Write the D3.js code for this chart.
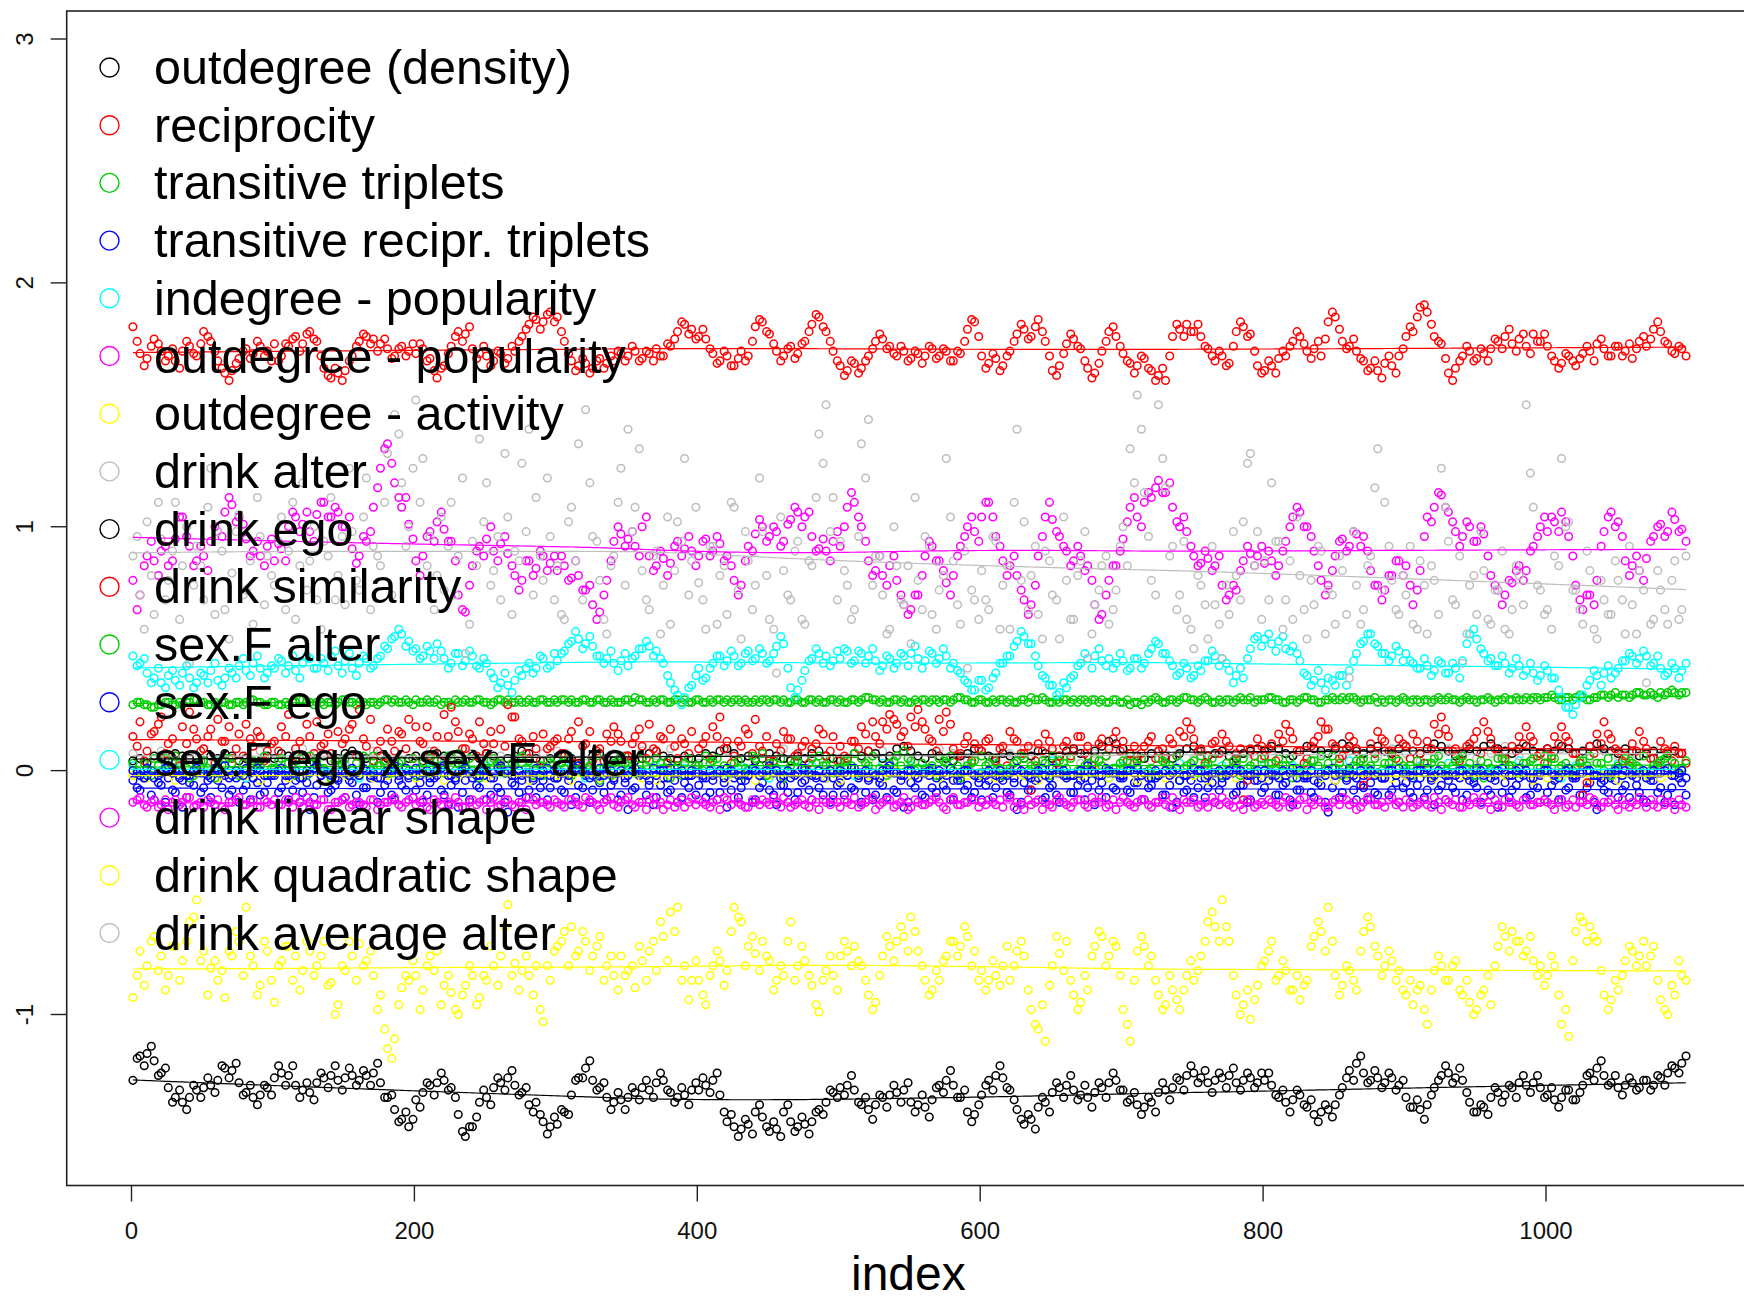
<!DOCTYPE html>
<html>
<head>
<meta charset="utf-8">
<script src="https://cdn.jsdelivr.net/npm/d3@7"></script>
<style>
  html, body { margin: 0; padding: 0; background: #ffffff; }
  svg { display: block; font-family: "Liberation Sans", Arial, sans-serif; }
</style>
</head>
<body>
<svg id="chart" width="1744" height="1302"></svg>
<script>
// Parameter chains stored in hundredths.
// Main arrays of 220 values are sampled every 5 iterations (1, 6, 11, ...),
// arrays of 110 values every 10 iterations. "Mid" arrays hold the values
// recorded between the main samples (iterations 4, 9, 14, ...).

const outdegreeDensity = [
  -127,-117,-116,-119,-124,-130,-134,-136,-134,-131,-130,-129,-127,-122,-123,-128,-132,-134,-133,-130,
  -126,-124,-125,-129,-131,-132,-128,-126,-125,-127,-126,-125,-127,-125,-124,-128,-134,-139,-143,-146,
  -135,-132,-129,-128,-127,-130,-141,-150,-146,-136,-134,-130,-128,-126,-129,-132,-137,-136,-144,-146,
  -145,-140,-133,-126,-122,-127,-130,-134,-136,-135,-134,-132,-130,-131,-128,-127,-132,-134,-133,-131,
  -131,-129,-127,-133,-144,-146,-147,-145,-140,-142,-148,-147,-140,-144,-146,-145,-144,-139,-136,-132,
  -130,-129,-131,-137,-139,-137,-134,-133,-132,-131,-136,-137,-138,-135,-129,-127,-129,-134,-140,-141,
  -133,-127,-125,-126,-131,-139,-145,-143,-138,-136,-132,-130,-129,-131,-133,-134,-132,-130,-128,-127,
  -131,-135,-137,-138,-136,-132,-131,-130,-127,-125,-124,-126,-128,-127,-126,-125,-128,-127,-126,-128,
  -127,-129,-134,-136,-135,-133,-138,-141,-140,-139,-137,-130,-123,-120,-124,-127,-126,-128,-126,-129,
  -134,-138,-139,-137,-130,-125,-124,-126,-127,-136,-140,-138,-134,-132,-133,-130,-128,-129,-128,-130,
  -133,-135,-134,-131,-135,-129,-124,-122,-125,-128,-130,-129,-128,-130,-127,-129,-126,-124,-122,-120
];
const outdegreeDensityMid = [
  -118,-121,-113,-125,-122,-136,-131,-139,-129,-134,-126,-132,-121,-126,-120,-133,-129,-137,-129,-133,
  -121,-129,-121,-134,-128,-135,-124,-130,-121,-131,-122,-129,-123,-129,-120,-134,-133,-144,-140,-143,
  -138,-128,-133,-124,-131,-134,-148,-146,-142,-131,-137,-126,-131,-123,-133,-130,-140,-141,-149,-142,
  -139,-141,-127,-126,-119,-131,-128,-139,-132,-139,-130,-135,-127,-134,-124,-131,-136,-130,-137,-128,
  -126,-132,-124,-140,-141,-150,-143,-149,-137,-146,-144,-150,-137,-148,-142,-149,-140,-141,-131,-134,
  -133,-125,-136,-134,-143,-133,-138,-129,-136,-128,-140,-133,-142,-130,-132,-123,-134,-131,-144,-137,
  -129,-131,-121,-130,-135,-143,-141,-147,-134,-140,-128,-134,-125,-135,-129,-138,-128,-134,-124,-131,
  -136,-132,-141,-134,-140,-128,-135,-126,-131,-121,-128,-123,-132,-124,-130,-122,-131,-124,-130,-124,
  -124,-133,-131,-140,-131,-137,-135,-144,-137,-142,-133,-126,-127,-117,-128,-123,-130,-124,-131,-127,
  -138,-135,-143,-133,-127,-121,-128,-122,-132,-140,-137,-141,-130,-136,-129,-134,-125,-132,-125,-134,
  -130,-138,-131,-135,-132,-125,-127,-119,-129,-125,-133,-126,-131,-127,-131,-125,-129,-121,-124,-117
];

const reciprocity = [
  182,171,169,177,172,170,168,172,174,170,180,176,168,163,164,169,173,171,174,172,
  175,170,174,178,175,180,176,165,161,163,164,170,176,178,177,175,173,170,174,172,
  171,173,169,161,166,174,180,179,173,171,170,168,171,169,172,178,183,185,184,188,
  186,176,168,166,167,165,169,167,168,171,170,172,169,171,173,170,174,180,183,181,
  178,177,171,168,170,166,172,170,182,184,179,172,170,174,171,176,183,186,180,172,
  166,164,167,165,170,176,177,174,170,172,169,171,170,173,170,172,168,171,181,184,
  170,167,169,166,172,179,181,178,185,176,164,166,175,177,173,165,163,172,180,178,
  171,167,166,169,164,162,160,178,181,183,180,178,173,168,170,167,180,182,179,166,
  164,166,169,170,176,178,172,173,170,184,186,176,174,172,168,165,164,167,166,170,
  178,180,190,188,178,175,163,165,170,172,169,171,173,176,178,175,177,174,179,176,
  174,168,167,170,166,171,172,175,173,170,174,172,169,176,174,181,180,175,171,173
];
const reciprocityMid = [
  176,166,174,175,168,173,165,176,171,175,178,172,165,160,167,172,169,176,170,168,
  168,175,177,172,179,177,170,162,165,160,168,174,179,175,172,177,169,173,170,175,
  175,168,164,165,171,178,176,182,169,174,166,172,167,174,176,181,186,181,187,184,
  180,171,164,169,163,168,165,170,172,168,174,168,172,168,170,175,177,184,179,177,
  181,173,167,172,166,169,168,176,185,180,175,168,173,169,175,180,187,182,176,168,
  162,168,163,168,173,179,173,171,174,168,172,167,174,169,173,168,172,176,185,178,
  165,171,164,170,176,183,177,182,180,170,162,171,179,174,168,161,167,176,182,174,
  168,163,170,165,160,165,170,183,178,180,183,174,170,172,166,174,184,178,172,163,
  168,163,172,174,180,175,169,176,177,188,181,173,177,169,164,168,161,170,163,173,
  182,186,191,183,176,169,160,168,174,168,173,168,177,173,181,172,179,171,176,179,
  170,165,171,168,169,174,168,177,170,174,170,175,173,178,177,184,176,172,174,170
];

const transTriplets = [
  27,28,27,26,27,28,27,27,28,29,28,27,27,28,27,28,28,29,28,27,
  28,27,27,28,29,28,28,27,28,28,29,28,28,27,28,28,29,29,28,28,
  29,28,28,29,28,27,28,29,28,29,28,28,29,29,28,28,29,28,29,28,
  28,29,29,28,29,28,29,28,28,28,29,30,29,28,28,29,28,29,29,28,
  29,28,28,29,29,29,28,28,29,29,28,29,29,28,29,28,29,29,28,29,
  29,28,29,29,30,29,29,28,29,29,28,28,29,29,28,29,29,30,29,28,
  29,28,28,29,29,28,29,30,29,29,28,28,29,29,29,28,29,29,28,29,
  28,27,28,29,29,29,28,29,29,30,29,29,29,28,28,29,29,29,30,29,
  29,30,29,28,29,29,30,29,28,29,29,30,30,29,29,29,28,28,29,29,
  29,29,28,29,29,29,30,29,29,29,28,29,29,29,30,29,29,30,30,29,
  30,30,29,30,30,30,29,30,31,31,30,31,31,32,31,31,32,32,32,32
];
const transTripletsMid = [
  28,27,26,27,28,27,28,28,29,28,27,28,28,27,28,27,29,28,27,28,
  27,28,28,29,28,27,28,28,27,29,28,27,28,28,27,29,28,28,29,27,
  28,29,28,27,28,29,28,28,29,28,27,29,28,28,29,28,28,29,28,29,
  29,28,28,29,28,29,28,29,28,29,28,29,28,29,29,28,29,28,28,29,
  28,29,29,28,28,29,29,28,28,29,29,28,28,29,28,29,28,28,29,28,
  28,29,28,30,29,28,28,29,28,28,29,29,28,29,29,28,30,29,28,29,
  28,29,29,28,28,29,28,29,30,28,29,29,28,28,29,29,28,28,29,28,
  29,28,27,28,30,28,29,28,30,29,28,30,28,29,29,28,30,29,28,29,
  30,29,28,29,28,30,29,28,29,30,29,29,30,28,29,30,29,29,28,30,
  28,29,29,28,30,29,29,28,30,29,29,30,28,29,29,30,29,29,30,30,
  31,29,30,29,31,29,30,31,30,32,31,30,32,31,32,30,31,33,31,32
];

const transReciprTriplets = [
  -4,-8,-2,-12,-6,-3,-9,-15,-5,-1,-7,-11,-4,-2,-8,-13,-6,-3,-10,-5,
  -2,-7,-12,-4,-9,-16,-6,-1,-8,-3,-11,-5,-14,-7,-2,-9,-4,-12,-6,-3,
  -8,-13,-5,-2,-10,-6,-15,-4,-1,-7,-12,-3,-9,-17,-6,-2,-8,-11,-4,-7,
  -3,-9,-14,-6,-2,-8,-5,-12,-4,-10,-16,-7,-1,-6,-11,-3,-8,-13,-5,-2,
  -6,-11,-4,-9,-15,-3,-7,-2,-12,-5,-8,-14,-6,-1,-9,-4,-12,-7,-3,-10,
  -5,-2,-8,-13,-4,-10,-6,-1,-9,-15,-5,-3,-11,-7,-2,-8,-12,-4,-6,-9,
  -12,-4,-7,-2,-10,-16,-5,-8,-3,-11,-6,-13,-2,-9,-4,-7,-14,-5,-1,-8,
  -3,-9,-5,-12,-6,-2,-10,-15,-4,-8,-11,-3,-7,-13,-5,-1,-9,-6,-12,-4,
  -7,-2,-10,-5,-14,-8,-3,-11,-6,-17,-4,-9,-2,-12,-7,-5,-10,-3,-8,-13,
  -5,-11,-3,-8,-14,-6,-2,-9,-12,-4,-7,-1,-10,-15,-5,-8,-3,-11,-6,-2,
  -9,-4,-12,-7,-2,-10,-5,-16,-8,-3,-11,-6,-1,-9,-13,-4,-7,-10,-14,-5
];
const transReciprTripletsMid = [
  -7,-3,-10,-5,-13,-8,-2,-11,-6,-9,-4,-14,-7,-10,-3,-8,-12,-5,-9,-2,
  -9,-4,-8,-13,-5,-11,-2,-9,-6,-12,-4,-10,-7,-3,-13,-6,-10,-4,-8,-11,
  -5,-10,-3,-8,-14,-4,-9,-12,-6,-2,-10,-7,-13,-5,-9,-11,-4,-7,-12,-3,
  -8,-4,-11,-7,-13,-3,-9,-6,-12,-5,-8,-2,-10,-14,-6,-9,-4,-11,-7,-10,
  -3,-9,-12,-5,-8,-11,-4,-13,-7,-2,-10,-6,-9,-12,-5,-8,-3,-10,-13,-6,
  -10,-7,-3,-9,-12,-5,-11,-8,-4,-13,-7,-10,-2,-9,-6,-12,-4,-8,-11,-5,
  -6,-11,-3,-9,-5,-13,-8,-4,-12,-7,-10,-2,-9,-6,-12,-4,-8,-11,-7,-3,
  -8,-5,-12,-7,-3,-10,-6,-13,-9,-4,-7,-11,-5,-8,-2,-10,-6,-13,-4,-9,
  -4,-10,-6,-12,-8,-3,-9,-5,-13,-7,-11,-4,-8,-6,-12,-9,-3,-10,-5,-7,
  -9,-6,-11,-4,-8,-12,-7,-3,-10,-5,-13,-8,-4,-9,-11,-6,-2,-10,-7,-12,
  -6,-12,-8,-3,-10,-7,-13,-5,-9,-4,-8,-11,-6,-12,-4,-9,-13,-7,-3,-10
];

const indegreePopularity = [
  2,-1,0,3,-2,1,4,0,-3,2,  1,-2,3,0,-1,2,-3,1,0,4,  -2,1,3,-1,0,2,-1,3,1,-2,
  0,2,-3,1,4,0,-1,2,-2,1,  3,0,-1,2,1,-3,0,4,2,-1,  1,-2,0,3,-1,2,1,-3,0,2,
  -1,3,0,-2,1,4,-1,0,2,-3, 2,1,-1,0,3,-2,1,2,0,-1,  3,-1,2,0,-3,1,4,0,-2,1,
  0,2,-1,3,1,-2,0,2,4,-1,  1,-3,2,0,-1,3,1,-2,2,0
];

const outdegreePopularity = [
  78,72,88,86,90,84,95,104,92,86,88,94,98,106,109,104,95,90,88,92,
  86,91,100,104,101,98,105,110,104,106,100,91,88,94,108,124,134,118,108,101,
  86,88,98,102,99,94,72,65,84,92,95,90,93,89,80,78,86,83,88,85,
  82,84,79,80,74,68,65,78,94,97,95,92,100,88,84,87,85,94,91,90,
  88,95,90,93,88,78,76,92,97,100,96,98,94,103,106,104,96,91,90,94,
  92,108,110,100,86,82,80,84,78,68,66,72,88,92,86,77,80,92,100,98,
  104,110,96,86,84,80,70,68,88,104,103,96,90,86,88,84,68,64,78,84,
  95,108,104,110,112,119,114,108,100,98,88,85,87,84,76,72,74,86,89,88,
  85,86,84,94,104,106,100,90,78,76,88,95,92,97,96,82,76,74,80,86,
  84,68,82,104,108,113,106,98,96,100,94,97,80,74,72,77,84,82,92,100,
  98,102,106,96,76,66,72,78,98,106,102,86,84,82,87,96,101,98,103,99
];
const outdegreePopularityMid = [
  66,84,94,80,92,86,104,96,84,92,82,100,96,112,102,101,88,94,84,95,
  93,86,106,98,106,94,110,104,108,100,104,85,96,98,116,132,126,112,112,95,
  80,96,94,106,94,86,66,76,90,88,100,86,96,84,74,86,80,90,82,88,
  88,78,86,74,76,62,72,86,100,92,98,88,104,82,90,80,92,88,96,84,
  94,88,96,86,84,72,86,90,103,94,100,92,101,108,100,106,90,95,86,98,
  100,114,104,94,80,88,76,88,72,64,72,80,94,86,82,72,88,96,104,94,
  110,104,92,80,88,74,64,76,96,110,98,92,84,92,82,78,62,72,84,90,
  102,112,100,114,116,114,118,102,104,92,84,90,82,88,70,76,82,92,84,92,
  90,80,90,100,108,100,96,84,72,82,94,90,98,92,90,76,70,80,86,80,
  76,74,96,102,114,108,102,92,102,94,100,88,76,68,78,82,78,90,96,104,
  104,98,102,88,70,72,68,92,104,100,96,80,88,78,94,100,96,106,98,94
];

const outdegreeActivity = [
  -2,-3,-1,-4,-2,0,-3,-1,-2,-4,  -1,-3,-2,0,-4,-2,-1,-3,-2,-1,  -3,-1,-4,-2,-1,-3,0,-2,-4,-1,
  -2,-4,-1,-3,-2,-1,-3,-4,-2,0,  -1,-2,-3,-1,-4,-2,-3,-1,-2,-3,  -4,-1,-2,-3,0,-2,-1,-3,-4,-2,
  -2,-3,-1,-2,-4,-1,-3,-2,0,-3,  -1,-4,-2,-3,-1,-2,-4,-1,-3,-2,  -3,-2,0,-1,-3,-4,-2,-1,-2,-3,
  -2,-1,-3,-4,-2,-1,-3,-2,-1,-4, -3,-2,-1,-3,-2,-4,-1,-2,-3,-1
];

const drinkAlter = [
  7,5,8,4,6,9,5,3,6,8,  4,6,9,7,5,3,6,8,5,4,  6,8,5,3,7,9,6,4,5,7,
  8,5,3,6,7,4,8,6,9,5,  3,6,8,5,4,7,9,6,5,3,  5,7,4,8,6,3,5,9,7,4,
  6,4,7,9,5,8,6,3,7,10, 8,6,4,7,9,5,6,8,4,7,  5,8,6,3,7,9,8,5,6,9,
  7,4,6,9,8,5,7,10,6,8, 6,9,7,5,8,6,4,7,9,6
];

const drinkEgo = [
  4,5,3,6,5,4,7,6,5,3,4,6,5,7,6,4,5,3,4,6,
  5,7,6,4,5,3,5,6,4,5,7,8,6,5,4,6,5,3,4,5,
  6,4,5,7,6,5,3,4,6,5,7,6,4,5,6,8,7,5,4,5,
  4,6,5,3,4,6,7,5,4,5,6,4,5,7,8,6,5,4,6,5,
  5,7,6,8,9,7,5,6,4,5,7,6,5,4,6,5,7,8,6,5,
  4,5,7,6,8,7,5,6,9,10,8,6,5,7,6,5,4,6,7,9,
  8,6,5,7,6,4,5,6,8,7,5,6,8,9,7,6,8,10,12,11,
  9,7,6,5,7,8,6,5,7,9,10,8,6,7,8,6,5,7,8,9,
  8,10,9,7,6,8,10,9,8,7,9,11,10,8,7,9,10,8,7,9,
  10,8,7,9,11,10,8,6,7,9,8,10,11,9,8,7,9,10,8,7,
  9,8,10,9,7,8,10,11,9,8,7,9,8,6,7,8,6,7,8,7
];

const drinkSimilarity = [
  14,20,8,16,22,11,6,18,24,13,9,17,21,12,5,15,19,10,14,8,
  12,18,23,9,6,14,20,11,7,16,13,19,25,10,4,12,17,8,15,21,
  18,11,6,14,23,26,16,9,13,20,7,11,17,27,22,12,5,9,15,10,
  13,7,16,20,11,4,9,15,18,12,6,14,10,19,8,13,17,5,11,16,
  9,14,18,22,12,6,10,15,21,8,4,11,16,13,7,12,9,17,6,14,
  10,5,12,18,8,14,20,23,19,16,22,25,17,12,21,24,9,7,14,11,
  8,13,4,10,16,12,7,-8,11,15,9,6,12,8,14,10,5,13,9,16,
  12,7,4,10,14,8,5,11,16,20,13,9,6,12,15,10,7,-12,9,13,
  6,11,15,19,13,8,5,12,20,17,10,6,14,9,-6,11,16,12,8,13,
  10,15,7,12,19,22,14,9,6,11,16,20,13,8,5,10,14,18,12,7,
  9,14,18,12,7,-10,10,15,20,13,8,6,11,16,9,5,12,8,10,7
];
const drinkSimilarityMid = [
  10,4,15,19,7,13,2,11,17,8,14,3,12,18,9,6,13,16,4,11,
  8,14,3,12,19,7,10,15,4,11,17,6,13,21,8,3,12,16,9,5,
  12,18,8,4,14,20,9,15,6,11,16,3,10,22,13,7,14,4,9,12,
  7,13,3,10,16,8,4,12,15,6,11,17,5,9,14,3,10,13,7,2,
  11,5,14,9,3,12,17,7,10,14,4,8,13,6,10,3,11,15,8,4,
  6,12,9,15,20,11,17,21,14,10,18,20,13,8,16,19,6,11,4,9,
  12,5,9,2,13,7,10,4,8,12,3,10,6,14,7,2,11,6,13,8,
  4,10,7,12,5,9,13,6,14,17,8,3,11,7,12,4,9,-4,6,10,
  9,4,12,16,8,3,10,14,17,11,5,9,12,4,-2,7,13,8,5,11,
  5,12,3,9,15,17,8,4,10,13,7,16,9,5,2,8,11,14,6,3,
  6,11,14,7,3,-5,7,11,15,9,4,2,8,12,5,2,9,4,7,3
];

const sexFAlter = [
  3,-2,1,5,-1,2,6,0,-3,2,4,-1,1,5,3,-2,0,4,2,-1,
  1,5,3,-2,0,6,4,1,-3,2,5,0,-2,3,6,2,-1,1,4,0,
  -2,3,5,1,-1,4,7,2,0,-3,1,5,3,-1,2,6,4,0,-2,3,
  5,1,-2,2,4,0,-4,1,3,6,2,-1,0,4,5,1,-3,2,3,0,
  2,6,4,-1,1,3,-2,0,5,7,3,1,-3,2,4,0,5,6,2,-1,
  1,4,7,5,2,-2,0,3,6,8,4,1,-1,2,5,3,0,-3,2,4,
  6,3,0,-2,1,4,5,2,-1,3,6,4,1,-2,0,3,5,2,-1,1,
  4,6,2,-1,1,5,3,0,-4,2,4,6,3,1,-2,0,3,5,2,-1,
  0,3,5,2,-3,-1,2,4,6,3,1,-2,0,4,5,2,-1,3,6,4,
  1,-2,0,3,5,2,-1,4,6,3,0,-3,1,5,4,2,-1,3,5,1,
  3,5,2,-1,1,4,6,3,0,-2,2,5,3,1,-1,2,4,6,3,1
];
const sexFAlterMid = [
  0,3,-2,2,5,-1,3,1,-2,4,1,-3,2,5,0,3,-1,2,6,1,
  4,0,2,5,-2,3,1,-1,4,2,-2,3,6,0,2,4,-1,3,1,5,
  1,-1,4,2,6,0,3,5,-2,1,4,2,-1,3,5,1,-2,2,4,0,
  3,5,0,-1,2,6,1,-2,4,3,0,5,2,-1,3,4,1,-2,5,2,
  0,3,5,2,-1,4,1,6,2,-2,3,5,0,4,1,-1,3,2,5,1,
  4,2,-1,3,6,1,-2,4,2,5,0,3,1,-2,4,6,2,0,3,-1,
  2,5,1,-1,3,6,0,2,4,-2,1,3,5,0,2,-1,4,6,1,3,
  1,3,5,0,-2,4,2,6,1,3,-1,2,5,0,3,4,-2,1,3,5,
  3,0,2,5,1,-2,4,2,0,6,3,-1,2,4,1,5,0,3,-2,2,
  2,4,-1,3,6,0,2,5,1,-2,4,3,0,5,2,-1,3,4,1,6,
  5,1,3,0,4,2,-1,3,5,1,-2,4,2,6,0,3,5,1,-1,4
];

const sexFEgo = [
  0,-2,1,-3,-1,2,0,-4,-2,1,-1,-3,0,2,-2,-1,1,-3,0,-2,
  -1,1,-2,0,-3,-1,2,0,-2,-4,-1,1,-2,0,-1,-3,0,2,-1,-2,
  1,-1,-3,0,2,-2,-1,1,-3,-2,0,-1,2,0,-2,-4,-1,1,0,-2,
  -3,-1,0,2,-1,-2,1,-1,-3,0,-2,1,-1,-4,-2,0,1,-1,-2,0,
  -1,-3,-2,0,1,-1,-4,-2,0,-1,2,0,-2,-3,-1,1,-2,0,-1,-3,
  0,-2,1,-1,-3,-2,0,2,-1,-2,0,-3,-1,1,0,-2,-4,-1,0,-2,
  -1,0,-2,-4,-1,1,-1,-3,0,-2,1,-1,-3,-2,0,2,-1,-2,0,-1,
  -2,0,1,-1,-3,-2,0,-1,-4,-2,1,0,-2,-1,-3,0,1,-1,-2,0,
  0,-1,-3,-2,1,0,-2,-4,-1,0,-2,-1,1,-3,-2,0,-1,-3,0,1,
  -1,-3,0,1,-2,-1,-4,-2,0,-1,1,-2,-3,0,-1,-2,1,0,-3,-1,
  0,-2,-1,1,-3,-1,0,-2,-4,-1,1,0,-2,-1,-3,0,-1,1,-2,0
];
const sexFEgoMid = [
  -1,-3,0,-2,1,-1,-3,-2,0,-1,-2,1,-1,-3,0,-2,-1,1,-2,-1,
  0,-2,-1,-3,0,1,-2,-1,-3,0,-2,-1,1,-2,-3,-1,0,-2,1,-1,
  -2,0,-1,1,-2,-3,0,-1,-2,0,-3,1,-1,-2,0,-1,-3,-2,1,0,
  -1,-2,1,0,-3,-1,-2,0,-1,-3,0,-1,-2,1,0,-3,-1,0,-2,-1,
  -2,0,-1,-3,0,-2,-1,1,-2,0,-1,-3,0,-2,1,-1,-2,-3,0,-1,
  -1,1,-2,0,-1,-3,1,-1,-2,0,-2,-1,0,-3,-1,1,-2,0,-1,-3,
  -2,-1,0,-2,-3,0,-2,-1,1,-3,-1,0,-2,-1,-3,0,-2,1,-1,-2,
  0,-1,-2,-3,0,-1,-2,1,-2,-1,0,-3,-1,0,-2,-1,0,-2,-1,-3,
  -1,-2,0,-1,-3,-2,0,-1,-2,1,-1,-3,-2,0,-1,-2,-3,0,-2,-1,
  -2,0,-1,-3,0,-2,-1,0,-2,-3,0,-1,-2,1,-2,0,-1,-3,-1,0,
  -1,-3,0,-2,-1,0,-2,-3,-1,0,-2,-1,-3,0,-2,-1,0,-2,-1,-3
];

const sexFEgoXAlter = [
  47,44,40,38,36,39,37,40,38,36,39,41,37,38,40,43,41,44,42,40,
  42,45,43,41,44,46,42,44,47,43,45,42,44,46,43,47,50,55,56,53,
  50,47,49,52,46,44,48,45,47,42,44,38,36,35,37,39,44,42,46,43,
  45,49,53,54,52,51,47,46,44,45,43,47,50,51,49,44,36,31,30,35,
  42,38,44,47,45,47,44,49,46,48,45,51,52,34,33,41,46,48,47,45,
  46,49,45,48,47,45,43,46,44,47,48,46,45,48,46,47,44,40,36,33,
  37,34,40,44,47,53,55,52,43,38,35,32,34,39,44,46,47,45,46,44,
  45,42,46,44,50,52,48,43,40,42,39,41,45,47,46,41,39,38,50,55,
  54,52,53,50,51,45,39,37,36,38,35,39,41,48,53,56,51,48,47,49,
  48,44,42,43,41,44,40,42,45,56,54,48,46,43,44,42,43,41,40,39,
  41,38,30,26,27,31,37,39,40,38,42,45,47,46,47,44,42,40,42,41
];
const sexFEgoXAlterMid = [
  43,46,36,42,34,41,35,43,34,40,36,44,35,42,38,46,39,47,38,43,
  46,40,47,38,47,42,46,41,49,40,48,39,47,42,46,51,54,58,51,49,
  46,51,46,49,42,48,43,49,43,46,40,34,40,32,41,42,40,47,42,48,
  48,52,57,50,55,47,44,49,41,48,46,50,53,47,46,39,33,27,34,39,
  37,42,47,43,49,43,48,45,50,44,48,55,42,30,37,45,50,44,43,49,
  50,44,49,44,50,41,47,42,48,43,51,42,49,44,50,42,41,37,33,37,
  33,38,44,47,51,57,52,47,39,35,31,36,38,43,48,42,50,43,42,48,
  41,46,42,48,53,48,45,39,44,38,43,45,49,43,44,36,42,46,54,51,
  56,49,55,49,48,40,35,41,33,37,39,35,45,52,56,52,48,45,51,45,
  45,42,46,39,45,40,44,38,52,58,50,45,43,47,40,46,39,44,37,43,
  38,33,26,23,30,35,41,35,43,40,45,48,44,49,43,47,39,44,38,44
];

const drinkLinearShape = [
  -13,-11,-15,-12,-14,-16,-12,-13,-11,-14,-15,-13,-12,-16,-13,-11,-14,-12,-15,-13,
  -12,-14,-13,-11,-15,-13,-14,-12,-16,-13,-11,-14,-13,-15,-12,-14,-13,-11,-15,-12,
  -14,-12,-16,-13,-11,-14,-13,-15,-12,-13,-16,-11,-14,-12,-15,-13,-11,-14,-13,-15,
  -13,-15,-12,-14,-11,-13,-16,-12,-14,-13,-11,-15,-13,-12,-14,-16,-12,-13,-15,-11,
  -12,-14,-13,-16,-12,-11,-14,-15,-13,-12,-14,-13,-11,-15,-13,-14,-12,-16,-13,-12,
  -15,-13,-11,-14,-12,-16,-13,-12,-14,-11,-15,-13,-14,-12,-13,-16,-11,-14,-13,-12,
  -13,-12,-14,-15,-11,-13,-16,-14,-12,-13,-15,-11,-14,-13,-12,-15,-13,-11,-14,-16,
  -11,-14,-13,-12,-15,-13,-14,-11,-16,-13,-12,-14,-15,-13,-11,-14,-12,-16,-13,-14,
  -14,-13,-15,-11,-13,-12,-16,-14,-13,-15,-12,-11,-14,-16,-13,-12,-14,-15,-11,-13,
  -12,-15,-13,-14,-11,-16,-13,-12,-15,-14,-13,-11,-16,-14,-12,-13,-15,-12,-14,-13,
  -13,-16,-12,-14,-15,-13,-11,-14,-13,-12,-16,-14,-13,-11,-15,-14,-12,-13,-16,-14
];
const drinkLinearShapeMid = [
  -12,-14,-13,-15,-12,-13,-14,-11,-15,-13,-12,-14,-15,-13,-12,-14,-13,-15,-12,-14,
  -14,-12,-15,-13,-11,-14,-12,-16,-13,-12,-15,-13,-14,-12,-16,-13,-12,-14,-13,-11,
  -13,-15,-12,-14,-13,-11,-15,-13,-14,-12,-13,-15,-12,-14,-13,-16,-12,-13,-14,-12,
  -14,-12,-13,-15,-12,-14,-13,-11,-15,-12,-14,-13,-16,-11,-13,-14,-15,-12,-13,-14,
  -13,-15,-12,-11,-14,-13,-15,-12,-14,-13,-11,-15,-13,-14,-12,-15,-13,-12,-14,-13,
  -12,-14,-15,-13,-11,-14,-12,-15,-13,-16,-12,-14,-13,-11,-15,-12,-14,-13,-12,-15,
  -14,-13,-12,-11,-15,-14,-12,-13,-16,-14,-12,-13,-15,-12,-14,-11,-13,-15,-12,-13,
  -13,-15,-12,-14,-13,-11,-15,-14,-12,-13,-15,-13,-11,-14,-13,-15,-14,-12,-15,-13,
  -12,-14,-13,-15,-14,-11,-13,-12,-15,-13,-14,-12,-13,-15,-11,-14,-13,-12,-14,-15,
  -13,-14,-12,-15,-13,-12,-14,-15,-13,-11,-14,-13,-12,-15,-13,-14,-12,-14,-13,-12,
  -14,-13,-15,-12,-13,-14,-12,-15,-13,-14,-12,-15,-14,-13,-12,-15,-14,-13,-12,-15
];

const drinkQuadraticShape = [
  -93,-74,-80,-68,-76,-84,-72,-78,-62,-53,-74,-81,-86,-93,-76,-70,-56,-80,-88,-74,
  -95,-78,-72,-76,-82,-74,-80,-70,-87,-96,-82,-76,-71,-78,-84,-92,-114,-110,-89,-86,
  -84,-90,-76,-74,-88,-91,-100,-88,-84,-93,-86,-80,-76,-55,-79,-82,-84,-80,-103,-86,
  -72,-66,-64,-74,-70,-76,-68,-80,-84,-76,-82,-89,-78,-74,-82,-68,-58,-56,-80,-86,
  -86,-96,-80,-78,-82,-56,-62,-72,-75,-70,-78,-86,-84,-62,-80,-78,-88,-99,-82,-84,
  -76,-74,-72,-80,-92,-95,-76,-72,-70,-68,-60,-74,-86,-90,-86,-76,-70,-72,-68,-74,
  -82,-86,-84,-80,-86,-74,-76,-98,-106,-111,-80,-75,-70,-92,-95,-90,-72,-68,-76,-72,
  -98,-111,-74,-72,-76,-92,-96,-90,-98,-84,-86,-76,-62,-64,-53,-70,-92,-96,-102,-88,
  -78,-70,-84,-82,-90,-94,-86,-68,-66,-56,-84,-88,-82,-90,-66,-64,-76,-80,-78,-82,
  -92,-96,-88,-104,-82,-80,-86,-78,-92,-95,-98,-90,-96,-72,-68,-66,-70,-74,-78,-80,
  -84,-80,-104,-109,-66,-62,-64,-70,-92,-94,-90,-78,-74,-76,-80,-72,-94,-100,-92,-84
];
const drinkQuadraticShapeMid = [
  -84,-88,-70,-82,-90,-72,-86,-70,-60,-78,-92,-78,-82,-74,-66,-84,-76,-92,-70,-86,
  -80,-72,-86,-90,-70,-84,-76,-88,-100,-80,-70,-86,-80,-74,-98,-106,-118,-96,-84,-78,
  -98,-80,-82,-96,-84,-98,-92,-80,-96,-84,-72,-88,-64,-84,-90,-76,-92,-98,-80,-74,
  -70,-80,-76,-66,-82,-72,-86,-76,-90,-84,-80,-72,-86,-70,-62,-78,-66,-86,-94,-78,
  -92,-84,-74,-88,-66,-60,-80,-68,-82,-76,-90,-80,-70,-86,-72,-84,-96,-86,-76,-90,
  -70,-80,-78,-86,-98,-84,-68,-78,-64,-74,-66,-80,-92,-82,-78,-70,-76,-64,-80,-86,
  -90,-78,-88,-72,-80,-70,-90,-104,-96,-88,-68,-82,-86,-98,-84,-76,-66,-80,-70,-84,
  -104,-86,-68,-80,-86,-98,-84,-94,-90,-78,-82,-70,-58,-70,-64,-84,-100,-90,-94,-80,
  -74,-86,-78,-90,-84,-88,-72,-62,-74,-70,-92,-80,-86,-74,-60,-72,-84,-74,-86,-90,
  -86,-90,-98,-90,-76,-86,-80,-90,-86,-100,-92,-84,-80,-64,-74,-70,-76,-68,-84,-88,
  -76,-92,-98,-78,-60,-70,-68,-82,-98,-86,-84,-72,-80,-70,-76,-86,-98,-88,-78,-86
];

const drinkAverageAlter = [
  88,72,102,64,95,78,110,84,44,92,70,124,98,66,81,105,74,60,96,88,
  76,104,90,62,118,86,70,94,112,80,68,98,74,120,92,84,130,146,118,100,
  152,128,96,80,74,110,88,48,94,136,118,82,70,104,90,126,140,112,78,96,
  84,62,108,134,148,96,78,56,88,124,140,108,82,66,90,76,60,102,128,86,
  77,58,92,80,64,108,54,86,76,98,62,40,82,70,94,60,84,138,150,112,
  94,76,66,134,144,88,72,58,84,68,52,78,96,64,74,128,86,60,42,70,
  82,66,94,76,58,140,102,80,64,90,72,54,78,62,86,46,68,84,60,74,
  100,132,154,114,78,150,116,92,72,62,50,76,54,68,46,64,80,102,130,98,
  86,118,94,70,62,80,54,68,90,74,60,82,38,76,66,88,132,110,78,64,
  72,60,86,56,78,124,94,68,44,76,64,82,60,74,58,66,80,150,108,74,
  66,88,128,102,74,60,82,54,70,64,78,56,68,82,36,62,74,60,86,66
];
const drinkAverageAlterMid = [
  96,58,80,110,70,90,62,100,76,84,108,64,90,54,98,72,86,112,68,80,
  94,66,110,84,74,100,58,88,70,96,124,78,104,66,88,110,72,138,92,124,
  110,84,66,104,92,72,120,60,84,102,76,96,130,64,86,98,72,88,120,70,
  64,102,86,70,118,94,62,84,110,76,98,132,70,88,56,104,82,94,72,108,
  70,92,60,84,110,74,98,66,120,80,58,104,72,90,62,86,112,126,98,70,
  82,62,96,120,76,88,56,100,70,84,112,66,92,58,80,104,68,90,74,62,
  70,96,58,84,110,78,66,92,54,86,70,104,62,80,98,56,74,88,66,92,
  84,118,140,96,72,128,88,66,94,58,80,68,92,60,76,98,70,126,84,62,
  70,94,58,86,104,66,78,92,56,72,88,64,98,60,84,116,74,92,66,80,
  92,58,76,84,64,108,70,88,56,80,98,62,74,90,56,84,68,122,76,64,
  58,84,100,74,66,90,58,78,64,86,70,92,56,74,60,82,66,78,62,88
];

// Legend labels, in the order the chains are plotted.
const seriesLabels = [
  "outdegree (density)", "reciprocity", "transitive triplets", "transitive recipr. triplets",
  "indegree - popularity", "outdegree - popularity", "outdegree - activity", "drink alter",
  "drink ego", "drink similarity", "sex.F alter", "sex.F ego",
  "sex.F ego x sex.F alter", "drink linear shape", "drink quadratic shape", "drink average alter"
];
const seriesValues = [
  outdegreeDensity, reciprocity, transTriplets, transReciprTriplets,
  indegreePopularity, outdegreePopularity, outdegreeActivity, drinkAlter,
  drinkEgo, drinkSimilarity, sexFAlter, sexFEgo,
  sexFEgoXAlter, drinkLinearShape, drinkQuadraticShape, drinkAverageAlter
];
const seriesMidValues = [
  outdegreeDensityMid, reciprocityMid, transTripletsMid, transReciprTripletsMid,
  null, outdegreePopularityMid, null, null,
  null, drinkSimilarityMid, sexFAlterMid, sexFEgoMid,
  sexFEgoXAlterMid, drinkLinearShapeMid, drinkQuadraticShapeMid, drinkAverageAlterMid
];
const totalIterations = 1100;
const xTickValues = [0, 200, 400, 600, 800, 1000];
const yTickValues = [-1, 0, 1, 2, 3];

// Default eight-colour palette, recycled.
const palette = ["#000000", "#FF0000", "#00CD00", "#0000FF", "#00FFFF", "#FF00FF", "#FFFF00", "#BEBEBE"];

const svg = d3.select("#chart");

// Plot region
const plot = { left: 66.7, top: 11, bottom: 1185.5, right: 1750 };
const x = d3.scaleLinear().domain([0, 1000]).range([131.5, 1546]);
const y = d3.scaleLinear().domain([-1, 3]).range([1014.5, 39]);

const chains = seriesValues.map((vals, s) => {
  const stride = totalIterations / vals.length;
  const pts = vals.map((v, i) => ({ it: 1 + i * stride, v: v / 100 }));
  const mid = seriesMidValues[s];
  if (mid) mid.forEach((v, i) => pts.push({ it: 4 + i * 5, v: v / 100 }));
  pts.sort((a, b) => a.it - b.it);
  return { label: seriesLabels[s], color: palette[s % palette.length], pts };
});

// Local linear smoother with tricube weights (span f).
function lowess(xs, ys, f) {
  const n = xs.length;
  const r = Math.max(2, Math.ceil(f * n));
  return xs.map(x0 => {
    const d = xs.map(xx => Math.abs(xx - x0));
    const h = d.slice().sort((a, b) => a - b)[r - 1] || 1;
    let sw = 0, sx = 0, sy = 0, sxx = 0, sxy = 0;
    for (let j = 0; j < n; j++) {
      const u = d[j] / h;
      if (u >= 1) continue;
      const w = Math.pow(1 - u * u * u, 3);
      sw += w; sx += w * xs[j]; sy += w * ys[j];
      sxx += w * xs[j] * xs[j]; sxy += w * xs[j] * ys[j];
    }
    const mx = sx / sw, my = sy / sw;
    const vx = sxx / sw - mx * mx;
    const b = vx > 1e-9 ? (sxy / sw - mx * my) / vx : 0;
    return my + b * (x0 - mx);
  });
}

// Points
chains.forEach(c => {
  svg.append("g")
    .attr("fill", "none")
    .attr("stroke", c.color)
    .attr("stroke-width", 1.5)
    .selectAll("circle")
    .data(c.pts)
    .join("circle")
    .attr("cx", d => x(d.it))
    .attr("cy", d => y(d.v))
    .attr("r", 3.8);
});

// Smoothed trend of each chain
const line = d3.line().x(d => x(d[0])).y(d => y(d[1]));
chains.forEach(c => {
  const xs = c.pts.map(p => p.it), ys = c.pts.map(p => p.v);
  const fit = lowess(xs, ys, 2 / 3);
  svg.append("path")
    .attr("d", line(xs.map((xx, i) => [xx, fit[i]])))
    .attr("fill", "none")
    .attr("stroke", c.color)
    .attr("stroke-width", 1.2);
});

// Frame (left, top, bottom; the right side falls outside the page)
svg.append("rect")
  .attr("x", plot.left).attr("y", plot.top)
  .attr("width", plot.right - plot.left).attr("height", plot.bottom - plot.top)
  .attr("fill", "none").attr("stroke", "#222").attr("stroke-width", 1.6);

// X axis
const gx = svg.append("g");
gx.selectAll("line").data(xTickValues).join("line")
  .attr("x1", d => x(d)).attr("x2", d => x(d))
  .attr("y1", plot.bottom).attr("y2", plot.bottom + 16)
  .attr("stroke", "#222").attr("stroke-width", 1.4);
gx.selectAll("text").data(xTickValues).join("text")
  .attr("x", d => x(d)).attr("y", 1239)
  .attr("text-anchor", "middle").attr("font-size", 24).attr("fill", "#111")
  .text(d => d);

// Y axis
const gy = svg.append("g");
gy.selectAll("line").data(yTickValues).join("line")
  .attr("x1", plot.left - 16).attr("x2", plot.left)
  .attr("y1", d => y(d)).attr("y2", d => y(d))
  .attr("stroke", "#222").attr("stroke-width", 1.4);
gy.selectAll("text").data(yTickValues).join("text")
  .attr("transform", d => `translate(33,${y(d)}) rotate(-90)`)
  .attr("text-anchor", "middle").attr("font-size", 24).attr("fill", "#111")
  .text(d => d);

// Axis title
svg.append("text")
  .attr("x", (plot.left + plot.right) / 2).attr("y", 1290)
  .attr("text-anchor", "middle").attr("font-size", 48).attr("fill", "#000")
  .text("index");

// Legend
const legend = svg.append("g");
const legY0 = 67.5, legStep = 57.7;
chains.forEach((c, i) => {
  const cy = legY0 + i * legStep;
  legend.append("circle")
    .attr("cx", 109.5).attr("cy", cy).attr("r", 9.5)
    .attr("fill", "none").attr("stroke", c.color).attr("stroke-width", 1.4);
  legend.append("text")
    .attr("x", 154).attr("y", cy + 16.5)
    .attr("font-size", 48.5).attr("fill", "#000")
    .text(c.label);
});
</script>
</body>
</html>
